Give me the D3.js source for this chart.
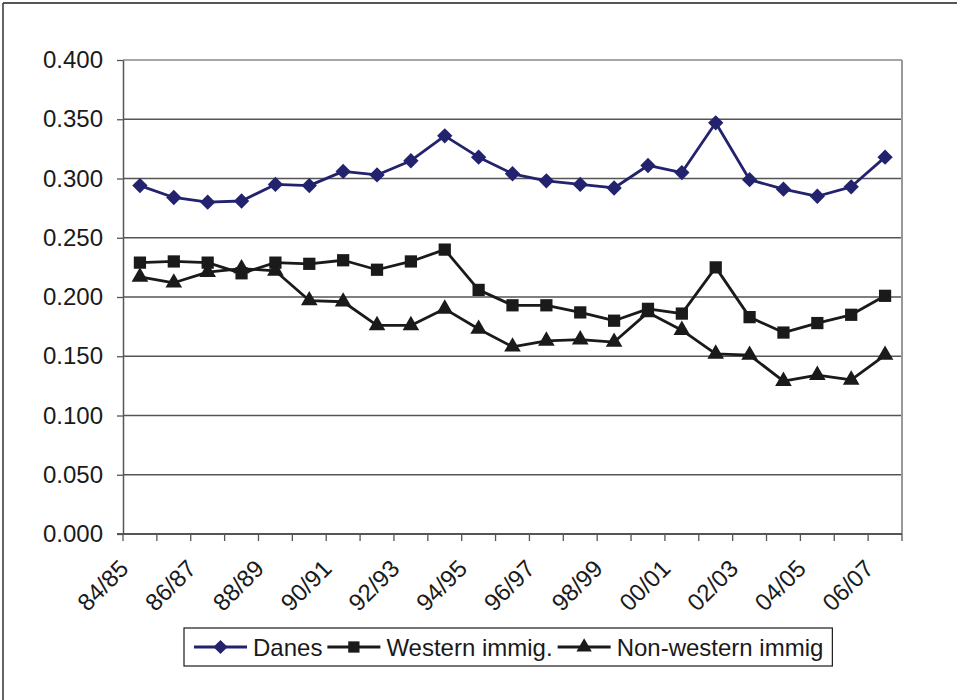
<!DOCTYPE html>
<html><head><meta charset="utf-8">
<script src="https://cdn.jsdelivr.net/npm/d3@7"></script>
<style>
html,body{margin:0;padding:0;background:#fff;}
svg{display:block;font-family:"Liberation Sans",Arial,sans-serif;}
</style></head>
<body>
<svg id="chart" width="957" height="700"></svg>
<script>
const categories = ["84/85","85/86","86/87","87/88","88/89","89/90","90/91","91/92","92/93","93/94","94/95","95/96","96/97","97/98","98/99","99/00","00/01","01/02","02/03","03/04","04/05","05/06","06/07"];
const danes = [0.294,0.284,0.280,0.281,0.295,0.294,0.306,0.303,0.315,0.336,0.318,0.304,0.298,0.295,0.292,0.311,0.305,0.347,0.299,0.291,0.285,0.293,0.318];
const western = [0.229,0.230,0.229,0.220,0.229,0.228,0.231,0.223,0.230,0.240,0.206,0.193,0.193,0.187,0.180,0.190,0.186,0.225,0.183,0.170,0.178,0.185,0.201];
const nonWestern = [0.217,0.212,0.221,0.224,0.222,0.197,0.196,0.176,0.176,0.190,0.173,0.158,0.163,0.164,0.162,0.187,0.172,0.152,0.151,0.129,0.134,0.130,0.151];
const yTicks = [0,0.05,0.1,0.15,0.2,0.25,0.3,0.35,0.4];
const seriesNames = ["Danes","Western immig.","Non-western immig"];

const series = [
  {name: seriesNames[0], values: danes, color: "#22226e", symbol: d3.symbolDiamond2, size: 150},
  {name: seriesNames[1], values: western, color: "#1a1a1a", symbol: d3.symbolSquare, size: 150},
  {name: seriesNames[2], values: nonWestern, color: "#1a1a1a", symbol: d3.symbolTriangle, size: 120}
];

const svg = d3.select("#chart");
const L = 123, R = 902, T = 60, B = 534;
const FONT = 24;

// outer frame
svg.append("line").attr("x1",3).attr("x2",957).attr("y1",3).attr("y2",3).attr("stroke","#555").attr("stroke-width",2);
svg.append("line").attr("x1",3).attr("x2",3).attr("y1",3).attr("y2",700).attr("stroke","#333").attr("stroke-width",1.5);

const x = d3.scaleBand().domain(categories).range([L, R]).padding(0);
const y = d3.scaleLinear().domain([0, 0.4]).range([B, T]);
const cx = c => x(c) + x.bandwidth()/2;

// gridlines
svg.append("g").selectAll("line").data(yTicks.filter(t => t > 0)).join("line")
  .attr("x1", L).attr("x2", R).attr("y1", d => y(d)).attr("y2", d => y(d))
  .attr("stroke", d => d === 0.4 ? "#888" : "#555").attr("stroke-width", 1.3);

// right border
svg.append("line").attr("x1",R).attr("x2",R).attr("y1",T).attr("y2",B).attr("stroke","#999").attr("stroke-width",2);

// y axis
const yAxis = d3.axisLeft(y).tickValues(yTicks).tickFormat(d3.format(".3f")).tickSize(6).tickPadding(14).tickSizeOuter(0);
const gy = svg.append("g").attr("transform", `translate(${L},0)`).call(yAxis);
gy.select(".domain").attr("stroke","#555").attr("stroke-width",1.5);
gy.selectAll(".tick line").attr("stroke","#555").attr("stroke-width",1.3);
gy.selectAll(".tick text").attr("font-size", FONT).attr("fill","#1a1a1a").attr("font-family","Liberation Sans, Arial, sans-serif");

// x axis baseline and ticks at category boundaries
svg.append("line").attr("x1",L-6).attr("x2",R).attr("y1",B).attr("y2",B).attr("stroke","#555").attr("stroke-width",2);
const bounds = categories.map(c => x(c)).concat([x.range()[1]]);
svg.append("g").selectAll("line").data(bounds).join("line")
  .attr("x1", d => d).attr("x2", d => d).attr("y1", B).attr("y2", B + 7)
  .attr("stroke","#555").attr("stroke-width",1.3);

// x labels (every other)
svg.append("g").selectAll("text").data(categories.filter((c,i) => i % 2 === 0)).join("text")
  .attr("transform", d => `translate(${cx(d) - 16},${B + 30}) rotate(-45)`)
  .attr("text-anchor","end").attr("dominant-baseline","central")
  .attr("font-size", FONT).attr("fill","#1a1a1a").text(d => d);

// lines and markers
series.forEach(s => {
  const line = d3.line().x((d,i) => cx(categories[i])).y(d => y(d));
  svg.append("path").datum(s.values).attr("d", line)
    .attr("fill","none").attr("stroke", s.color).attr("stroke-width", 2.8).attr("stroke-linejoin","round");
  svg.append("g").selectAll("path").data(s.values).join("path")
    .attr("transform", (d,i) => `translate(${cx(categories[i])},${y(d)})`)
    .attr("d", d3.symbol().type(s.symbol).size(s.size)())
    .attr("fill", s.color);
});

// legend
const lg = svg.append("g");
const box = lg.append("rect").attr("y", 628).attr("height", 38).attr("x", 184)
  .attr("fill","#fff").attr("stroke","#1a1a1a").attr("stroke-width",1.2);
let lx = 184 + 10;
const ly = 647;
series.forEach(s => {
  lg.append("line").attr("x1", lx).attr("x2", lx + 53).attr("y1", ly).attr("y2", ly)
    .attr("stroke", s.color).attr("stroke-width", 2.8);
  lg.append("path").attr("transform", `translate(${lx + 26.5},${ly})`)
    .attr("d", d3.symbol().type(s.symbol).size(s.size * 0.85)()).attr("fill", s.color);
  const t = lg.append("text").attr("x", lx + 59).attr("y", ly).attr("dominant-baseline","central")
    .attr("font-size", FONT).attr("fill","#1a1a1a").text(s.name);
  lx = lx + 59 + t.node().getComputedTextLength() + 5;
});
box.attr("width", lx - 184 + 4);
</script>
</body></html>
